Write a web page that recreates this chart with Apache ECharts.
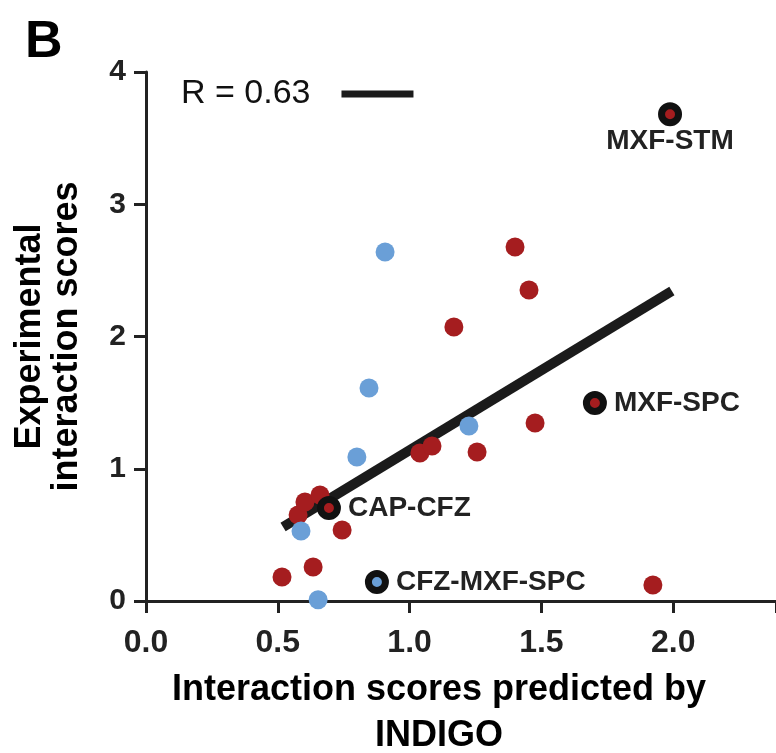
<!DOCTYPE html>
<html>
<head>
<meta charset="utf-8">
<script src="https://cdn.jsdelivr.net/npm/echarts@6/dist/echarts.min.js"></script>
<style>
  html, body { margin: 0; padding: 0; background: #fff; }
  #chart { width: 776px; height: 753px; }
</style>
</head>
<body>
<div id="chart"></div>
<script>
// Values.
const xTicks = [0, 0.5, 1.0, 1.5, 2.0];
const yTicks = [0, 1, 2, 3, 4];

// plain points, red group
const redX = [1.400, 1.453, 1.168, 1.476, 1.039, 1.085, 1.256, 0.516, 0.634, 0.577, 0.603, 0.660, 0.744, 1.923];
const redY = [2.677, 2.352, 2.072, 1.346, 1.119, 1.172, 1.127, 0.181, 0.257, 0.650, 0.749, 0.802, 0.537, 0.121];

// plain points, blue group
const blueX = [0.907, 0.846, 1.225, 0.800, 0.588, 0.653];
const blueY = [2.639, 1.611, 1.323, 1.089, 0.529, 0.010];

// highlighted (ringed) combinations
const hiNames = ['MXF-STM', 'MXF-SPC', 'CAP-CFZ', 'CFZ-MXF-SPC'];
const hiX = [1.988, 1.703, 0.694, 0.876];
const hiY = [3.680, 1.497, 0.703, 0.144];
const hiGroup = ['red', 'red', 'red', 'blue'];

// regression line ends
const fitX = [0.520, 1.995];
const fitY = [0.560, 2.344];
const fitName = 'R = 0.63';

const RED = '#a51d1f';
const BLUE = '#6a9fd7';
const INK = '#222';
const FONT = '"Liberation Sans", Arial, sans-serif';

const chart = echarts.init(document.getElementById('chart'), null, { renderer: 'canvas' });

const pairs = (xs, ys) => xs.map((x, i) => [x, ys[i]]);

const hiData = hiNames.map((name, i) => {
    const labelRight = name !== 'MXF-STM';
    return {
        name,
        value: [hiX[i], hiY[i]],
        itemStyle: { color: hiGroup[i] === 'red' ? RED : BLUE },
        label: labelRight
            ? { position: 'right', distance: 7 }
            : { position: 'bottom', distance: 1 },
    };
});

const axisStyle = { lineStyle: { color: INK, width: 3 } };
const tickStyle = { show: true, inside: false, length: 12, lineStyle: { color: INK, width: 3 } };

chart.setOption({
    animation: false,
    backgroundColor: '#fff',
    textStyle: { fontFamily: FONT },
    title: {
        text: 'B',
        left: 20,
        top: 12,
        textStyle: { fontSize: 52, fontWeight: 'bold', color: '#000', fontFamily: FONT },
    },
    legend: {
        data: [fitName],
        left: 176,
        top: 72,
        align: 'right',
        icon: 'rect',
        itemWidth: 72,
        itemHeight: 7,
        selectedMode: false,
        textStyle: { fontSize: 34, color: '#111', fontFamily: FONT, padding: [0, 26, 0, 0] },
    },
    grid: { left: 146, right: 0, top: 72, bottom: 152, outerBoundsMode: 'none' },
    xAxis: {
        type: 'value',
        min: 0,
        max: 2.39,
        interval: 0.5,
        name: 'Interaction scores predicted by\nINDIGO',
        nameLocation: 'middle',
        nameGap: 66,
        nameTextStyle: { fontSize: 36, fontWeight: 'bold', color: '#000', lineHeight: 46, padding: [0, 44, 0, 0] },
        axisLine: axisStyle,
        axisTick: tickStyle,
        axisLabel: {
            customValues: xTicks,
            formatter: (v) => v.toFixed(1),
            fontSize: 32, fontWeight: 'bold', color: INK, margin: 26,
        },
        splitLine: { show: false },
    },
    yAxis: {
        type: 'value',
        min: 0,
        max: 4,
        interval: 1,
        name: 'Experimental\ninteraction scores',
        nameLocation: 'middle',
        nameRotate: 90,
        nameGap: 60,
        nameTextStyle: { fontSize: 36, fontWeight: 'bold', color: '#000', lineHeight: 37 },
        axisLine: axisStyle,
        axisTick: tickStyle,
        axisLabel: { customValues: yTicks, fontSize: 30, fontWeight: 'bold', color: INK, margin: 20 },
        splitLine: { show: false },
    },
    series: [
        {
            name: fitName,
            type: 'line',
            data: pairs(fitX, fitY),
            showSymbol: false,
            symbol: 'none',
            silent: true,
            z: 1,
            itemStyle: { color: '#1b1b1b' },
            lineStyle: { color: '#1b1b1b', width: 10, cap: 'butt' },
        },
        {
            name: 'red',
            type: 'scatter',
            data: pairs(redX, redY),
            symbolSize: 19,
            z: 2,
            itemStyle: { color: RED, opacity: 1 },
        },
        {
            name: 'blue',
            type: 'scatter',
            data: pairs(blueX, blueY),
            symbolSize: 19,
            z: 2,
            itemStyle: { color: BLUE, opacity: 1 },
        },
        {
            name: 'highlighted',
            type: 'scatter',
            data: hiData,
            symbolSize: 17,
            z: 3,
            itemStyle: { borderColor: '#111', borderWidth: 7, opacity: 1 },
            label: {
                show: true,
                formatter: '{b}',
                fontSize: 28,
                fontWeight: 'bold',
                color: INK,
                fontFamily: FONT,
            },
        },
    ],
});
</script>
</body>
</html>
